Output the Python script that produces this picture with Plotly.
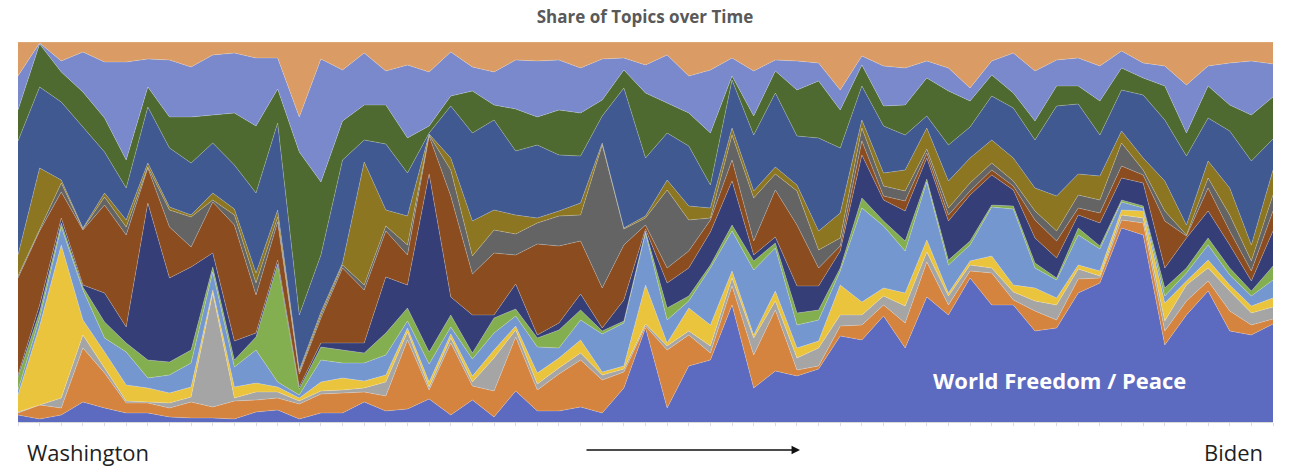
import plotly.graph_objects as go

# Inaugural addresses, Washington (1789) to Biden (2021)
years = [1789, 1793, 1797, 1801, 1805, 1809, 1813, 1817, 1821, 1825,
         1829, 1833, 1837, 1841, 1845, 1849, 1853, 1857, 1861, 1865,
         1869, 1873, 1877, 1881, 1885, 1889, 1893, 1897, 1901, 1905,
         1909, 1913, 1917, 1921, 1925, 1929, 1933, 1937, 1941, 1945,
         1949, 1953, 1957, 1961, 1965, 1969, 1973, 1977, 1981, 1985,
         1989, 1993, 1997, 2001, 2005, 2009, 2013, 2017, 2021]

# topic weights per address (bottom of the stack first)
world_freedom = [7, 3, 7, 20, 14, 9, 9, 5, 4, 4,
                 3, 10, 12, 3, 9, 9, 20, 11, 13, 23,
                 7, 22, 5, 31, 11, 11, 15, 9, 34, 94,
                 14, 56, 62, 117, 34, 51, 46, 53, 86, 82,
                 106, 74, 125, 107, 144, 117, 117, 91, 94, 129,
                 139, 194, 187, 77, 107, 131, 91, 87, 98]
topic_orange = [2, 14, 7, 54, 35, 10, 10, 9, 16, 11,
                18, 12, 12, 15, 19, 20, 10, 15, 69, 9,
                72, 14, 26, 54, 21, 37, 47, 33, 16, 2,
                58, 31, 7, 19, 33, 61, 6, 3, 10, 15,
                11, 25, 35, 10, 7, 32, 5, 20, 8, 14,
                5, 8, 12, 14, 14, 10, 20, 10, 5]
topic_gray = [1, 0, 10, 13, 5, 2, 1, 5, 5, 114,
              3, 8, 6, 3, 3, 3, 4, 14, 8, 3,
              5, 4, 33, 7, 6, 6, 7, 5, 3, 2,
              4, 4, 7, 8, 17, 9, 12, 18, 11, 10,
              9, 17, 10, 9, 6, 5, 8, 10, 15, 10,
              2, 5, 5, 10, 16, 13, 20, 12, 12]
topic_yellow = [17, 79, 153, 15, 16, 16, 14, 10, 10, 3,
                11, 9, 5, 3, 9, 12, 7, 7, 4, 5,
                4, 6, 8, 4, 11, 10, 13, 3, 3, 39,
                3, 23, 21, 7, 3, 10, 10, 7, 30, 13,
                8, 13, 12, 3, 4, 12, 7, 13, 7, 4,
                5, 5, 7, 18, 4, 8, 6, 7, 9]
topic_lightblue = [5, 8, 18, 30, 14, 33, 10, 18, 24, 18,
                   20, 33, 5, 3, 22, 15, 18, 20, 7, 18,
                   7, 17, 17, 10, 26, 10, 20, 38, 43, 52,
                   23, 7, 57, 40, 65, 43, 23, 21, 14, 94,
                   62, 42, 58, 28, 16, 49, 76, 20, 18, 30,
                   22, 8, 3, 7, 8, 15, 10, 10, 18]
topic_lightgreen = [13, 6, 4, 3, 16, 9, 18, 13, 13, 5,
                    7, 13, 118, 6, 13, 13, 10, 22, 13, 12,
                    12, 6, 15, 7, 9, 18, 10, 3, 2, 2,
                    12, 5, 3, 6, 9, 5, 12, 10, 3, 10,
                    5, 10, 3, 5, 4, 2, 3, 5, 2, 7,
                    3, 2, 2, 8, 5, 7, 7, 5, 14]
topic_navy = [2, 7, 5, 2, 29, 16, 157, 84, 83, 14,
              19, 4, 4, 2, 4, 7, 10, 56, 23, 178,
              18, 38, 3, 25, 3, 7, 16, 3, 21, 2,
              25, 28, 33, 44, 6, 6, 27, 24, 17, 43,
              21, 30, 21, 39, 46, 30, 16, 25, 20, 13,
              23, 22, 23, 20, 30, 27, 23, 10, 35]
topic_brown = [97, 74, 26, 55, 88, 92, 35, 51, 20, 51,
               116, 38, 38, 13, 25, 75, 53, 46, 30, 38,
               101, 41, 62, 29, 91, 77, 53, 40, 55, 4,
               15, 17, 12, 21, 14, 47, 61, 18, 5, 14,
               4, 10, 5, 6, 4, 5, 4, 18, 17, 7,
               10, 12, 8, 47, 2, 23, 14, 10, 20]
topic_darkgray = [2, 2, 9, 1, 8, 8, 1, 17, 30, 2,
                  10, 12, 5, 2, 3, 3, 5, 5, 10, 1,
                  26, 18, 23, 21, 21, 30, 26, 143, 16, 7,
                  78, 31, 2, 25, 43, 16, 34, 18, 8, 13,
                  10, 10, 4, 7, 8, 7, 5, 9, 10, 13,
                  13, 23, 5, 10, 1, 10, 16, 10, 16]
topic_olive = [21, 61, 3, 1, 4, 7, 4, 3, 2, 7,
               6, 10, 7, 2, 3, 2, 123, 16, 29, 1,
               12, 35, 20, 19, 5, 5, 12, 2, 1, 2,
               10, 14, 10, 7, 7, 7, 6, 19, 25, 8,
               13, 21, 21, 27, 25, 23, 23, 23, 35, 21,
               24, 12, 12, 30, 10, 17, 27, 16, 25]
topic_darkblue = [114, 81, 78, 101, 41, 32, 56, 59, 52, 50,
                  44, 80, 87, 55, 57, 103, 22, 66, 43, 1,
                  52, 88, 90, 64, 73, 56, 47, 27, 140, 58,
                  47, 60, 23, 48, 56, 74, 49, 93, 65, 34,
                  47, 35, 12, 36, 31, 44, 50, 48, 90, 70,
                  41, 41, 63, 61, 69, 43, 57, 84, 31]
topic_darkgreen = [31, 43, 30, 35, 34, 28, 20, 31, 46, 28,
                   52, 67, 34, 163, 73, 39, 35, 39, 35, 7,
                   10, 42, 15, 42, 28, 45, 43, 16, 18, 65,
                   30, 33, 52, 4, 19, 22, 46, 57, 38, 21,
                   20, 30, 38, 54, 26, 21, 15, 19, 20, 18,
                   34, 22, 17, 34, 23, 32, 26, 46, 42]
topic_periwinkle = [34, 1, 11, 40, 56, 98, 28, 57, 50, 60,
                    60, 68, 31, 35, 123, 51, 52, 34, 73, 54,
                    44, 24, 33, 49, 56, 50, 45, 41, 12, 28,
                    48, 37, 63, 18, 45, 11, 29, 18, 20, 9,
                    40, 37, 17, 23, 13, 14, 40, 50, 26, 28,
                    35, 17, 15, 20, 48, 20, 42, 54, 33]
topic_tan = [34, 1, 19, 10, 20, 20, 17, 18, 25, 13,
             11, 16, 16, 75, 17, 28, 11, 29, 23, 30,
             10, 25, 30, 18, 19, 18, 26, 17, 16, 23,
             13, 34, 28, 16, 29, 18, 19, 21, 48, 14,
             24, 26, 19, 26, 46, 19, 11, 29, 18, 16,
             24, 9, 21, 24, 43, 24, 21, 19, 22]

series = [
    ('World Freedom / Peace', world_freedom, '#5C6AC0'),
    ('Topic 2', topic_orange, '#D5843F'),
    ('Topic 3', topic_gray, '#A5A5A5'),
    ('Topic 4', topic_yellow, '#EBC43D'),
    ('Topic 5', topic_lightblue, '#7597D0'),
    ('Topic 6', topic_lightgreen, '#84AF50'),
    ('Topic 7', topic_navy, '#353E76'),
    ('Topic 8', topic_brown, '#8B4D20'),
    ('Topic 9', topic_darkgray, '#646464'),
    ('Topic 10', topic_olive, '#8C7622'),
    ('Topic 11', topic_darkblue, '#405A91'),
    ('Topic 12', topic_darkgreen, '#4E6A30'),
    ('Topic 13', topic_periwinkle, '#7989CB'),
    ('Topic 14', topic_tan, '#DA9C64'),
]

fig = go.Figure()
for name, vals, color in series:
    fig.add_trace(go.Scatter(
        x=years,
        y=vals,
        name=name,
        mode='lines',
        stackgroup='one',
        groupnorm='percent',
        fillcolor=color,
        line=dict(width=0.6, color='rgba(255,255,255,0.35)'),
        hoverinfo='skip'
    ))

# the page puts the figure 8px in from the top-left corner
fig.update_layout(
    width=1285,
    height=461,
    paper_bgcolor='white',
    plot_bgcolor='white',
    showlegend=False,
    margin=dict(l=10, r=20, t=34, b=47),
    title=dict(
        text='<b>Share of Topics over Time</b>',
        x=0.4957, xanchor='center',
        y=0.994, yanchor='top',
        font=dict(family='Open Sans', size=17, color='#595959')
    ),
    xaxis=dict(
        range=[1789, 2021],
        showgrid=False,
        zeroline=False,
        showticklabels=False,
        showline=True,
        linecolor='#D9D9D9',
        ticks='outside',
        ticklen=3,
        tickcolor='#D9D9E8',
        tickvals=years
    ),
    yaxis=dict(
        range=[0, 100],
        showgrid=False,
        zeroline=False,
        showticklabels=False
    ),
    annotations=[
        dict(text='Washington', xref='paper', yref='paper', x=0.0056, y=-0.079,
             xanchor='left', yanchor='middle', showarrow=False,
             font=dict(family='Open Sans', size=22, color='#1F1F1F')),
        dict(text='Biden', xref='paper', yref='paper', x=0.9936, y=-0.079,
             xanchor='right', yanchor='middle', showarrow=False,
             font=dict(family='Open Sans', size=22, color='#1F1F1F')),
        dict(text='', xref='paper', yref='paper', x=0.6231, y=-0.0737,
             ax=-215, ay=0, showarrow=True, arrowhead=2, arrowsize=1.3,
             arrowwidth=1.3, arrowcolor='#111111'),
        dict(text='<b>World Freedom / Peace</b>', xref='paper', yref='paper',
             x=0.830, y=0.1105, xanchor='center', yanchor='middle', showarrow=False,
             font=dict(family='Open Sans', size=22, color='white')),
    ]
)

fig.write_html('out.html')
